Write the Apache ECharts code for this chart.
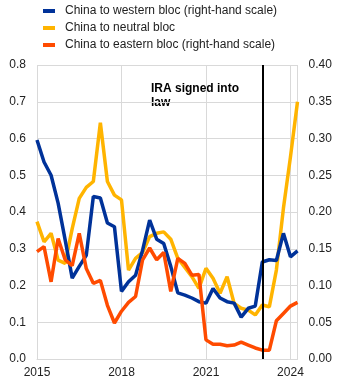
<!DOCTYPE html>
<html><head><meta charset="utf-8">
<script src="https://cdn.jsdelivr.net/npm/echarts@6/dist/echarts.min.js"></script>
<style>html,body{margin:0;padding:0;background:#fff}#c{width:346px;height:386px}</style>
</head><body><div id="c"></div>
<script>
// quarterly observations, 2015Q1 .. 2024Q2
const quarters = [];
for (let y = 2015; y <= 2024; y++) for (let q = 1; q <= 4; q++) quarters.push(y + 'Q' + q);
const categories = quarters.slice(0, 38);
const yearTicks = ['2015', '2018', '2021', '2024'];
const iraCategory = '2023Q1';
const iraLines = ['IRA signed into', 'law'];

const seriesNames = [
  'China to western bloc (right-hand scale)',
  'China to neutral bloc',
  'China to eastern bloc (right-hand scale)'
];
// right-hand scale
const western = [0.298,0.268,0.250,0.212,0.162,0.110,0.126,0.141,0.221,0.219,0.185,0.180,0.092,0.105,0.114,0.148,0.189,0.163,0.157,0.126,0.090,0.087,0.083,0.078,0.076,0.096,0.083,0.078,0.076,0.057,0.069,0.072,0.132,0.135,0.134,0.171,0.139,0.147];
// left-hand scale
const neutral = [0.374,0.319,0.342,0.269,0.260,0.355,0.437,0.467,0.483,0.643,0.483,0.446,0.433,0.242,0.274,0.290,0.333,0.342,0.346,0.326,0.274,0.249,0.224,0.192,0.247,0.220,0.179,0.224,0.151,0.138,0.133,0.120,0.147,0.142,0.242,0.410,0.550,0.700];
// right-hand scale
const eastern = [0.146,0.153,0.105,0.164,0.135,0.127,0.171,0.123,0.103,0.107,0.073,0.049,0.065,0.077,0.085,0.135,0.151,0.135,0.145,0.092,0.137,0.130,0.114,0.115,0.026,0.020,0.020,0.018,0.019,0.023,0.019,0.015,0.012,0.012,0.052,0.062,0.072,0.077];

const colors = ['#003299', '#ffb400', '#ff4b00'];
const font = "'Liberation Sans', Arial, sans-serif";
const textColor = '#222';
const gridColor = '#d9d9d9';

const chart = echarts.init(document.getElementById('c'), null, {renderer: 'canvas'});
chart.setOption({
  animation: false,
  color: colors,
  textStyle: {fontFamily: font},
  legend: {
    orient: 'vertical', left: 38, top: -1,
    itemWidth: 12, itemHeight: 4, itemGap: 3, icon: 'rect',
    textStyle: {fontFamily: font, fontSize: 12, color: textColor, lineHeight: 14, padding: [0, 0, 0, 5]},
    data: seriesNames
  },
  grid: {left: 37, right: 48.5, top: 65, bottom: 27, containLabel: false},
  xAxis: {
    type: 'category', data: categories, boundaryGap: false,
    axisLine: {show: true, lineStyle: {color: gridColor, width: 1}},
    axisTick: {show: false},
    axisLabel: {
      interval: (i) => i % 12 === 0,
      formatter: (v, i) => yearTicks[i / 12] || '',
      color: textColor, fontSize: 12, fontFamily: font, margin: 8
    },
    splitLine: {show: true, interval: (i) => i % 12 === 0 || i === 37, lineStyle: {color: gridColor, width: 1}}
  },
  yAxis: [
    {
      type: 'value', min: 0, max: 0.8, interval: 0.1, position: 'left',
      axisLine: {show: false}, axisTick: {show: false},
      axisLabel: {formatter: (v) => v.toFixed(1), color: textColor, fontSize: 12, fontFamily: font, margin: 11},
      splitLine: {show: true, lineStyle: {color: gridColor, width: 1}}
    },
    {
      type: 'value', min: 0, max: 0.4, interval: 0.05, position: 'right',
      axisLine: {show: false}, axisTick: {show: false},
      axisLabel: {formatter: (v) => v.toFixed(2), color: textColor, fontSize: 12, fontFamily: font, margin: 11},
      splitLine: {show: false}
    }
  ],
  series: [
    {
      name: seriesNames[0], type: 'line', yAxisIndex: 1, data: western,
      showSymbol: false, lineStyle: {width: 3.5, color: colors[0]}, z: 3,
      markLine: {
        silent: true, symbol: ['none', 'none'], label: {show: false},
        lineStyle: {color: '#000', width: 2, type: 'solid'},
        data: [{xAxis: iraCategory}]
      }
    },
    {name: seriesNames[1], type: 'line', yAxisIndex: 0, data: neutral, showSymbol: false, lineStyle: {width: 3.5, color: colors[1]}, z: 2},
    {name: seriesNames[2], type: 'line', yAxisIndex: 1, data: eastern, showSymbol: false, lineStyle: {width: 3.5, color: colors[2]}, z: 4}
  ],
  graphic: iraLines.map((t, k) => ({
    type: 'text', x: 151, y: 83 + k * 14,
    style: {text: t, fontFamily: font, fontSize: 12, fontWeight: 'bold', fill: '#000', verticalAlign: 'top', align: 'left'}
  }))
});
</script></body></html>
